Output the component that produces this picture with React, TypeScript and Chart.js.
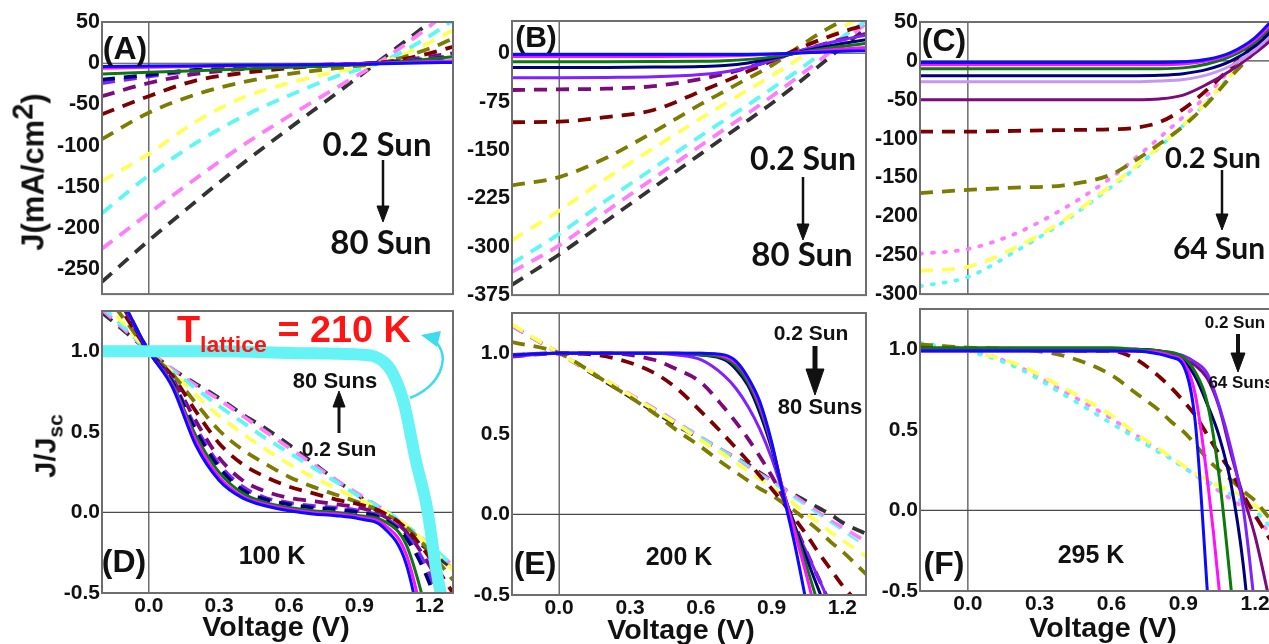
import React, { useEffect, useRef } from "react";
import { Chart, registerables } from "chart.js";
Chart.register(...registerables);

// ---------------- DATA ----------------
// Panel A: J (mA/cm^2) vs V at 100 K
const vA = [-0.2, 0, 0.2, 0.4, 0.6, 0.8, 1.0, 1.2, 1.3];
const jA_blue = [-4, -3.5, -3, -2.5, -2, -1.5, -0.5, 0.5, 1];
const jA_magenta = [-6, -5, -4, -3, -2, -1, 0, 2, 3];
const jA_green = [-13, -11, -9, -7, -5, -3, 0, 5, 8];
const jA_navy = [-20, -14, -8, -5, -3, -1.5, 0.5, 5, 8];
const jA_violet = [-24, -16, -9, -6, -3.5, -2, 0.5, 6, 9];
const jA_purple = [-40, -24, -13, -7, -4, -2, 1, 8, 12];
const jA_darkred = [-62, -40, -21, -12, -6, -2, 1, 12, 20];
const jA_olive = [-92, -60, -38, -23, -13, -6, 1, 18, 30];
const jA_yellow = [-143, -110, -71, -42, -24, -10, 1, 25, 40];
const jA_cyan = [-182, -136, -97, -65, -39, -16, 2, 33, 52];
const jA_pink = [-225, -182, -140, -100, -64, -30, 4, 45, 68];
const jA_black = [-265, -215, -168, -122, -79, -37, 6, 50, 75];

// Panel B: J vs V at 200 K
const vB = [-0.2, 0, 0.2, 0.4, 0.6, 0.7, 0.8, 0.9, 1.0, 1.1, 1.2, 1.3];
const jB_blue = [-2, -2, -2, -2, -2, -2, -1.8, -1.2, 0, 1.5, 3, 4];
const jB_magenta = [-5, -5, -5, -5, -4.6, -4.2, -3.2, -1.6, 0.5, 3.5, 6.5, 9];
const jB_green = [-13, -13, -13, -12.8, -12.3, -11.5, -9.5, -6, 0, 6, 11, 15];
const jB_navy = [-22, -22, -22, -21.5, -20.5, -19, -15, -8, 0, 8, 15, 21];
const jB_violet = [-38, -38, -37.5, -36.5, -33, -29, -22, -11, 1, 12, 21, 28];
const jB_purple = [-57, -56, -55, -51, -40, -32, -22, -11, 1, 12, 22, 30];
const jB_darkred = [-107, -106, -99, -88, -59, -44, -28, -12, 5, 20, 33, 44];
const jB_olive = [-205, -192, -162, -122, -79, -59, -39, -19, 6, 30, 50, 62];
const jB_yellow = [-290, -244, -194, -147, -101, -79, -57, -35, -12, 14, 40, 60];
const jB_cyan = [-326, -280, -228, -178, -128, -104, -80, -55, -30, -3, 25, 50];
const jB_pink = [-339, -298, -245, -194, -143, -118, -93, -67, -40, -12, 17, 46];
const jB_black = [-359, -312, -260, -208, -156, -130, -104, -78, -50, -20, 10, 38];

// Panel C: J vs V at 295 K
const vC = [-0.2, 0, 0.2, 0.4, 0.6, 0.7, 0.8, 0.9, 1.0, 1.1, 1.2, 1.3];
const jC_blue = [-2, -2, -2, -2, -2, -2, -2, -1, 2, 11, 30, 62];
const jC_magenta = [-5, -5, -5, -5, -5, -5, -5, -4, 0, 9, 27, 58];
const jC_green = [-10, -10, -10, -10, -10, -10, -10, -9, -4, 6, 24, 54];
const jC_navy = [-19, -19, -19, -19, -19, -19, -18.5, -16.5, -11, 0, 19, 48];
const jC_lavender = [-27, -27, -27, -27, -27, -27, -26, -24, -18, -6, 14, 43];
const jC_purple = [-50, -50, -50, -50, -50, -50, -49, -44, -30, -12, 10, 35];
const jC_darkred = [-91, -91, -90, -89, -88, -86, -79, -62, -37, -8, 22, 50];
const jC_olive = [-170, -166, -163, -160, -146, -128, -107, -84, -55, -20, 12, 45];
const jC_yellow = [-270, -265, -240, -205, -160, -136, -110, -82, -52, -18, 15, 48];
const jC_cyan = [-290, -278, -245, -207, -162, -138, -111, -83, -52, -18, 15, 48];
const jC_pink = [-248, -242, -222, -190, -150, -125, -99, -72, -44, -10, 20, 50];

// Panel D: J/Jsc vs V at 100 K
const vD = [-0.2, -0.1, 0, 0.1, 0.2, 0.3, 0.4, 0.5, 0.6, 0.7, 0.8, 0.9, 1.0, 1.1, 1.2, 1.3];
const jD_blue = [1.6, 1.28, 1.0, 0.78, 0.42, 0.2, 0.09, 0.04, 0.01, -0.01, -0.02, -0.04, -0.09, -0.32, -1.0, -1.8];
const jD_magenta = [1.6, 1.28, 1.0, 0.79, 0.45, 0.22, 0.1, 0.05, 0.02, 0.0, -0.01, -0.03, -0.07, -0.26, -0.85, -1.6];
const jD_green = [1.6, 1.28, 1.0, 0.8, 0.48, 0.25, 0.12, 0.06, 0.03, 0.01, 0.0, -0.02, -0.05, -0.2, -0.7, -1.4];
const jD_navy = [1.55, 1.27, 1.0, 0.81, 0.51, 0.28, 0.14, 0.08, 0.05, 0.03, 0.02, 0.0, -0.04, -0.16, -0.44, -0.9];
const jD_violet = [1.55, 1.27, 1.0, 0.82, 0.53, 0.3, 0.16, 0.09, 0.06, 0.04, 0.03, 0.01, -0.03, -0.14, -0.38, -0.8];
const jD_purple = [1.5, 1.25, 1.0, 0.83, 0.57, 0.34, 0.2, 0.13, 0.09, 0.07, 0.05, 0.03, -0.02, -0.12, -0.33, -0.6];
const jD_darkred = [1.45, 1.22, 1.0, 0.85, 0.63, 0.43, 0.3, 0.22, 0.16, 0.12, 0.08, 0.05, 0.0, -0.1, -0.28, -0.5];
const jD_olive = [1.38, 1.19, 1.0, 0.86, 0.68, 0.51, 0.39, 0.3, 0.22, 0.16, 0.11, 0.06, 0.0, -0.09, -0.24, -0.42];
const jD_yellow = [1.32, 1.16, 1.0, 0.87, 0.73, 0.6, 0.49, 0.39, 0.3, 0.22, 0.15, 0.08, 0.01, -0.08, -0.21, -0.36];
const jD_cyan = [1.28, 1.14, 1.0, 0.88, 0.77, 0.66, 0.56, 0.46, 0.37, 0.28, 0.19, 0.1, 0.02, -0.08, -0.2, -0.33];
const jD_pink = [1.26, 1.13, 1.0, 0.89, 0.79, 0.7, 0.6, 0.5, 0.4, 0.3, 0.2, 0.11, 0.02, -0.09, -0.21, -0.33];
const jD_black = [1.24, 1.12, 1.0, 0.89, 0.8, 0.71, 0.61, 0.52, 0.42, 0.31, 0.2, 0.1, -0.02, -0.13, -0.24, -0.35];
// thick cyan curve: T_lattice = 210 K
const vD_lattice = [-0.2, 0, 0.3, 0.6, 0.9, 0.96, 1.0, 1.04, 1.09, 1.14, 1.19, 1.23, 1.27];
const jD_lattice = [1.0, 1.0, 1.0, 0.99, 0.98, 0.97, 0.94, 0.87, 0.68, 0.33, 0.02, -0.37, -0.65];

// Panel E: J/Jsc vs V at 200 K
const vE = [-0.2, 0, 0.2, 0.4, 0.5, 0.6, 0.7, 0.75, 0.8, 0.85, 0.9, 0.95, 1.0, 1.05, 1.1, 1.15, 1.2, 1.3];
const jE_blue = [0.99, 1.0, 1.0, 1.0, 1.0, 1.0, 0.99, 0.95, 0.85, 0.7, 0.45, 0.12, -0.2, -0.57, -0.95, -1.3, -1.6, -2.2];
const jE_magenta = [0.99, 1.0, 1.0, 1.0, 1.0, 1.0, 0.98, 0.94, 0.84, 0.68, 0.44, 0.14, -0.12, -0.39, -0.68, -0.98, -1.3, -1.9];
const jE_green = [0.99, 1.0, 1.0, 1.0, 1.0, 0.99, 0.97, 0.92, 0.82, 0.66, 0.43, 0.14, -0.1, -0.33, -0.57, -0.82, -1.1, -1.6];
const jE_navy = [0.99, 1.0, 1.0, 1.0, 1.0, 0.99, 0.96, 0.9, 0.8, 0.63, 0.41, 0.14, -0.08, -0.28, -0.47, -0.66, -0.85, -1.2];
const jE_violet = [0.98, 1.0, 1.0, 1.0, 0.99, 0.96, 0.86, 0.78, 0.67, 0.53, 0.35, 0.13, -0.08, -0.24, -0.4, -0.56, -0.72, -1.0];
const jE_purple = [0.98, 1.0, 1.0, 0.96, 0.9, 0.82, 0.66, 0.57, 0.47, 0.36, 0.24, 0.1, -0.07, -0.24, -0.4, -0.56, -0.72, -1.0];
const jE_darkred = [0.99, 1.0, 0.98, 0.88, 0.78, 0.64, 0.49, 0.41, 0.33, 0.24, 0.16, 0.07, -0.03, -0.13, -0.24, -0.34, -0.44, -0.6];
const jE_olive = [1.07, 1.0, 0.82, 0.63, 0.52, 0.42, 0.31, 0.26, 0.21, 0.16, 0.12, 0.07, 0.02, -0.04, -0.1, -0.17, -0.23, -0.37];
const jE_yellow = [1.18, 1.0, 0.83, 0.65, 0.56, 0.46, 0.37, 0.32, 0.27, 0.22, 0.17, 0.12, 0.06, 0.0, -0.05, -0.11, -0.16, -0.26];
const jE_cyan = [1.18, 1.0, 0.83, 0.66, 0.57, 0.48, 0.39, 0.35, 0.3, 0.25, 0.2, 0.15, 0.1, 0.05, 0.0, -0.05, -0.1, -0.2];
const jE_pink = [1.17, 1.0, 0.83, 0.66, 0.57, 0.48, 0.39, 0.35, 0.3, 0.25, 0.21, 0.16, 0.11, 0.06, 0.01, -0.04, -0.08, -0.17];
const jE_black = [1.17, 1.0, 0.82, 0.64, 0.55, 0.47, 0.39, 0.35, 0.31, 0.26, 0.21, 0.16, 0.12, 0.08, 0.04, 0.0, -0.05, -0.12];

// Panel F: J/Jsc vs V at 295 K
const vF = [-0.2, 0, 0.2, 0.4, 0.6, 0.7, 0.8, 0.85, 0.9, 0.95, 1.0, 1.05, 1.1, 1.15, 1.2, 1.25, 1.3];
const jF_blue = [0.99, 0.99, 0.99, 0.99, 0.99, 0.99, 0.97, 0.95, 0.9, 0.55, -0.49, -1.7, -3, -4, -5, -6, -7];
const jF_magenta = [0.99, 0.99, 0.99, 0.99, 0.99, 0.99, 0.98, 0.96, 0.92, 0.72, 0.2, -0.49, -1.4, -2.4, -3.4, -4.4, -5.4];
const jF_green = [1.01, 1.01, 1.01, 1.01, 1.01, 1.0, 0.99, 0.98, 0.95, 0.86, 0.67, 0.21, -0.49, -1.3, -2.2, -3, -4];
const jF_navy = [1.0, 1.0, 1.0, 1.0, 1.0, 1.0, 0.99, 0.97, 0.93, 0.83, 0.66, 0.46, 0.16, -0.33, -1.1, -2, -3];
const jF_violet = [1.0, 1.0, 1.0, 1.0, 1.0, 1.0, 0.99, 0.98, 0.96, 0.92, 0.85, 0.65, 0.38, 0.02, -0.62, -1.4, -2.2];
const jF_purple = [1.0, 1.0, 1.0, 1.0, 1.0, 0.99, 0.98, 0.97, 0.94, 0.9, 0.82, 0.64, 0.35, 0.09, -0.16, -0.49, -0.85];
const jF_darkred = [1.01, 1.0, 1.0, 0.99, 0.99, 0.94, 0.83, 0.76, 0.68, 0.59, 0.47, 0.35, 0.24, 0.1, -0.03, -0.15, -0.26];
const jF_olive = [1.03, 1.01, 1.0, 0.96, 0.84, 0.73, 0.62, 0.55, 0.49, 0.41, 0.32, 0.25, 0.19, 0.12, 0.06, -0.03, -0.12];
const jF_yellow = [1.03, 0.99, 0.91, 0.76, 0.59, 0.48, 0.38, 0.33, 0.28, 0.23, 0.19, 0.15, 0.12, 0.09, 0.03, -0.04, -0.1];
const jF_cyan = [1.04, 0.99, 0.89, 0.72, 0.54, 0.45, 0.36, 0.32, 0.27, 0.22, 0.18, 0.14, 0.1, 0.05, 0.0, -0.08, -0.15];
const jF_pink = [1.03, 1.0, 0.9, 0.74, 0.57, 0.47, 0.37, 0.32, 0.27, 0.22, 0.17, 0.12, 0.07, 0.02, -0.04, -0.12, -0.2];

// Tick values
const xTickValues = [0, 0.3, 0.6, 0.9, 1.2];
const yTicksA = [50, 0, -50, -100, -150, -200, -250];
const yTicksB = [0, -75, -150, -225, -300, -375];
const yTicksC = [50, 0, -50, -100, -150, -200, -250, -300];
const yTicksNorm = [1.0, 0.5, 0.0, -0.5];

// ---------------- STYLES ----------------
const COL = {
  blue: "#0b0bff",
  magenta: "#ff10ff",
  green: "#0b7a0b",
  navy: "#00007c",
  violet: "#7f22ff",
  lavender: "#c596f5",
  purple: "#7c0a7c",
  darkred: "#7c0000",
  olive: "#7c7c00",
  yellow: "#ffff58",
  cyan: "#5cf7f7",
  pink: "#ff7cff",
  black: "#333333",
};
type Kind = "solid" | "dash" | "dot";
type St = { color: string; kind: Kind; width?: number };
const st = (color: string, kind: Kind, width?: number): St => ({ color, kind, width });

const stylesA: St[] = [
  st(COL.blue, "solid"), st(COL.magenta, "solid"), st(COL.green, "solid"), st(COL.navy, "dash"),
  st(COL.violet, "dash"), st(COL.purple, "dash"), st(COL.darkred, "dash"), st(COL.olive, "dash"),
  st(COL.yellow, "dash"), st(COL.cyan, "dash"), st(COL.pink, "dash"), st(COL.black, "dash"),
];
const stylesB: St[] = [
  st(COL.blue, "solid"), st(COL.magenta, "solid"), st(COL.green, "solid"), st(COL.navy, "solid"),
  st(COL.violet, "solid"), st(COL.purple, "dash"), st(COL.darkred, "dash"), st(COL.olive, "dash"),
  st(COL.yellow, "dash"), st(COL.cyan, "dash"), st(COL.pink, "dash"), st(COL.black, "dash"),
];
const stylesC: St[] = [
  st(COL.blue, "solid"), st(COL.magenta, "solid"), st(COL.green, "solid"), st(COL.navy, "solid"),
  st(COL.lavender, "solid"), st(COL.purple, "solid"), st(COL.darkred, "dash"), st(COL.olive, "dash"),
  st(COL.yellow, "dash"), st(COL.cyan, "dot"), st(COL.pink, "dot"),
];
const stylesE: St[] = stylesB.map((s, i) => (i === 9 ? st(COL.cyan, "dash", 2) : s));
const stylesF: St[] = [
  st(COL.blue, "solid"), st(COL.magenta, "solid"), st(COL.green, "solid"), st(COL.navy, "solid"),
  st(COL.violet, "solid"), st(COL.purple, "solid"), st(COL.darkred, "dash"), st(COL.olive, "dash"),
  st(COL.yellow, "dash"), st(COL.cyan, "dot"), st(COL.pink, "dot"),
];

const seriesA = [jA_blue, jA_magenta, jA_green, jA_navy, jA_violet, jA_purple, jA_darkred, jA_olive, jA_yellow, jA_cyan, jA_pink, jA_black];
const seriesB = [jB_blue, jB_magenta, jB_green, jB_navy, jB_violet, jB_purple, jB_darkred, jB_olive, jB_yellow, jB_cyan, jB_pink, jB_black];
const seriesC = [jC_blue, jC_magenta, jC_green, jC_navy, jC_lavender, jC_purple, jC_darkred, jC_olive, jC_yellow, jC_cyan, jC_pink];
const seriesD = [jD_blue, jD_magenta, jD_green, jD_navy, jD_violet, jD_purple, jD_darkred, jD_olive, jD_yellow, jD_cyan, jD_pink, jD_black];
const seriesE = [jE_blue, jE_magenta, jE_green, jE_navy, jE_violet, jE_purple, jE_darkred, jE_olive, jE_yellow, jE_cyan, jE_pink, jE_black];
const seriesF = [jF_blue, jF_magenta, jF_green, jF_navy, jF_violet, jF_purple, jF_darkred, jF_olive, jF_yellow, jF_cyan, jF_pink];

const ARIAL = '"Liberation Sans", Arial, Helvetica, sans-serif';
const CAL = 'Lato, "Open Sans", sans-serif';

function makeDs(xs: number[], ys: number[], s: St) {
  const w = s.width ?? (s.kind === "solid" ? 3 : 3.8);
  return {
    data: xs.map((x, i) => ({ x, y: ys[i] })),
    borderColor: s.color,
    backgroundColor: s.color,
    borderWidth: w,
    borderDash: s.kind === "dash" ? [13, 9] : s.kind === "dot" ? [2, 10] : [],
    borderCapStyle: s.kind === "dot" ? "round" : "butt",
    cubicInterpolationMode: "monotone",
    pointRadius: 0,
    fill: false,
  };
}
function buildSet(xs: number[], series: number[][], styles: St[]) {
  return series.map((ys, i) => makeDs(xs, ys, styles[i]));
}

const framePlugin = {
  id: "frameAndZero",
  beforeDatasetsDraw(chart: any) {
    const { ctx, chartArea: a, scales } = chart;
    const x0 = scales.x.getPixelForValue(0);
    const y0 = scales.y.getPixelForValue(0);
    ctx.save();
    ctx.strokeStyle = "#4a4a4a";
    ctx.lineWidth = 1.2;
    ctx.beginPath();
    ctx.moveTo(x0, a.top);
    ctx.lineTo(x0, a.bottom);
    ctx.moveTo(a.left, y0);
    ctx.lineTo(a.right, y0);
    ctx.stroke();
    ctx.restore();
  },
  afterDatasetsDraw(chart: any) {
    const { ctx, chartArea: a } = chart;
    ctx.save();
    ctx.strokeStyle = "#6e6e6e";
    ctx.lineWidth = 2;
    ctx.strokeRect(a.left, a.top, a.right - a.left, a.bottom - a.top);
    ctx.restore();
  },
};

type PanelProps = {
  l: number; t: number; w: number; h: number;
  yMin: number; yMax: number; yTicks: number[]; showX: boolean; decimals: number;
  datasets: any[];
};

function Panel(p: PanelProps) {
  const ref = useRef<HTMLCanvasElement>(null);
  const padL = 66, padT = 16, padR = 12;
  const padB = p.showX ? 34 : 6;
  const cw = p.w + padL + padR;
  const chh = p.h + padT + padB;
  useEffect(() => {
    const tickFont = { family: ARIAL, size: p.showX ? 21 : 21.5, weight: "bold" as const };
    const chart = new Chart(ref.current as HTMLCanvasElement, {
      type: "line",
      data: { datasets: p.datasets },
      options: {
        animation: false,
        responsive: false,
        maintainAspectRatio: false,
        layout: { padding: { left: 0, top: padT, right: padR, bottom: p.showX ? 0 : padB } },
        plugins: { legend: { display: false }, tooltip: { enabled: false } },
        elements: { point: { radius: 0 } },
        scales: {
          x: {
            type: "linear",
            min: -0.2,
            max: 1.3,
            display: p.showX,
            grid: { display: false, drawTicks: false },
            border: { display: false },
            ticks: {
              font: { family: ARIAL, size: 21, weight: "bold" },
              color: "#111",
              padding: 1,
              autoSkip: false,
              maxRotation: 0,
              callback: (v: any) => Number(v).toFixed(1),
            },
            afterBuildTicks: (s: any) => {
              s.ticks = xTickValues.map((v) => ({ value: v }));
            },
            afterFit: (s: any) => {
              s.height = padB;
            },
          },
          y: {
            type: "linear",
            min: p.yMin,
            max: p.yMax,
            grid: { display: false, drawTicks: false },
            border: { display: false },
            ticks: {
              font: tickFont,
              color: "#111",
              padding: 2,
              autoSkip: false,
              callback: (v: any) => Number(v).toFixed(p.decimals),
            },
            afterBuildTicks: (s: any) => {
              s.ticks = p.yTicks.map((v) => ({ value: v }));
            },
            afterFit: (s: any) => {
              s.width = padL;
            },
          },
        },
      } as any,
      plugins: [framePlugin],
    });
    return () => chart.destroy();
  }, []);
  return (
    <canvas
      ref={ref}
      width={cw}
      height={chh}
      style={{ position: "absolute", left: p.l - padL, top: p.t - padT, width: cw, height: chh }}
    />
  );
}

function Txt(props: {
  x: number; y: number; size: number; children: any; color?: string; family?: string;
  rotate?: boolean; anchor?: "center" | "left"; sx?: number;
}) {
  const { x, y, size, children, color = "#111", family = ARIAL, rotate, anchor = "center", sx = 1 } = props;
  const tr =
    anchor === "left"
      ? `translate(0,-50%) scaleX(${sx})`
      : `translate(-50%,-50%)${rotate ? " rotate(-90deg)" : ""} scaleX(${sx})`;
  return (
    <div
      style={{
        position: "absolute",
        left: x,
        top: y,
        transform: tr,
        transformOrigin: anchor === "left" ? "left center" : "center center",
        fontSize: size,
        fontWeight: 700,
        fontFamily: family,
        color,
        whiteSpace: "nowrap",
        lineHeight: 1,
      }}
    >
      {children}
    </div>
  );
}

export default function App() {
  const dsA = buildSet(vA, seriesA, stylesA);
  const dsB = buildSet(vB, seriesB, stylesB);
  const dsC = buildSet(vC, seriesC, stylesC);
  const dsD = [
    { ...makeDs(vD_lattice, jD_lattice, st("#66f3f5", "solid", 12)), borderCapStyle: "butt" },
    ...buildSet(vD, seriesD, stylesA),
  ];
  const dsE = buildSet(vE, seriesE, stylesE);
  const dsF = buildSet(vF, seriesF, stylesF);

  return (
    <div style={{ position: "fixed", left: 0, top: 0, width: 1269, height: 644, overflow: "hidden", background: "#fff" }}>
      <Panel l={102} t={22} w={351} h={281} yMin={-280} yMax={50} yTicks={yTicksA} showX={false} decimals={0} datasets={dsA} />
      <Panel l={512} t={21} w={354} h={283} yMin={-375} yMax={50} yTicks={yTicksB} showX={false} decimals={0} datasets={dsB} />
      <Panel l={920} t={22} w={359} h={281} yMin={-300} yMax={50} yTicks={yTicksC} showX={false} decimals={0} datasets={dsC} />
      <Panel l={102} t={311} w={351} h={282} yMin={-0.5} yMax={1.25} yTicks={yTicksNorm} showX={true} decimals={1} datasets={dsD} />
      <Panel l={512} t={313} w={354} h={282} yMin={-0.5} yMax={1.25} yTicks={yTicksNorm} showX={true} decimals={1} datasets={dsE} />
      <Panel l={920} t={309} w={359} h={282} yMin={-0.5} yMax={1.25} yTicks={yTicksNorm} showX={true} decimals={1} datasets={dsF} />

      {/* axis titles */}
      <Txt x={33} y={172} size={31} rotate>
        J(mA/cm<span style={{ fontSize: 29, position: "relative", top: -11 }}>2</span>)
      </Txt>
      <Txt x={46} y={446} size={29} rotate>
        J/J<span style={{ fontSize: 21, position: "relative", top: 7 }}>sc</span>
      </Txt>
      <Txt x={276} y={627} size={27} sx={1.06}>Voltage (V)</Txt>
      <Txt x={681} y={630} size={27} sx={1.06}>Voltage (V)</Txt>
      <Txt x={1103} y={628} size={27} sx={1.06}>Voltage (V)</Txt>

      {/* panel labels */}
      <Txt x={125} y={48} size={32}>(A)</Txt>
      <Txt x={536} y={37} size={30}>(B)</Txt>
      <Txt x={944} y={40} size={32}>(C)</Txt>
      <Txt x={124} y={561} size={32}>(D)</Txt>
      <Txt x={535} y={563} size={32}>(E)</Txt>
      <Txt x={944} y={563} size={32}>(F)</Txt>

      {/* top annotations */}
      <Txt x={377} y={143} size={33} family={CAL}>0.2 Sun</Txt>
      <Txt x={381} y={241} size={33} family={CAL}>80 Sun</Txt>
      <Txt x={803} y={158} size={32} family={CAL}>0.2 Sun</Txt>
      <Txt x={802} y={253} size={33} family={CAL}>80 Sun</Txt>
      <Txt x={1213} y={156} size={29} family={CAL}>0.2 Sun</Txt>
      <Txt x={1219} y={247} size={30} family={CAL}>64 Sun</Txt>

      {/* bottom annotations */}
      <Txt x={177} y={330} size={36} color="#ff1414" anchor="left" sx={1.05}>
        T<span style={{ fontSize: 22, position: "relative", top: 10 }}>lattice</span> = 210 K
      </Txt>
      <Txt x={335} y={381} size={22}>80 Suns</Txt>
      <Txt x={339} y={448} size={21}>0.2 Sun</Txt>
      <Txt x={272} y={555} size={25}>100 K</Txt>
      <Txt x={811} y={332} size={21}>0.2 Sun</Txt>
      <Txt x={820} y={407} size={22}>80 Suns</Txt>
      <Txt x={679} y={556} size={25}>200 K</Txt>
      <Txt x={1235} y={322} size={17}>0.2 Sun</Txt>
      <Txt x={1241} y={382} size={17}>64 Suns</Txt>
      <Txt x={1091} y={554} size={25}>295 K</Txt>

      <svg width={1269} height={644} style={{ position: "absolute", left: 0, top: 0, pointerEvents: "none" }}>
        <g stroke="#111" fill="#111">
          <line x1={383} y1={160} x2={383} y2={208} strokeWidth={2.5} />
          <polygon points="377,206 389,206 383,222" />
          <line x1={803} y1={177} x2={803} y2={226} strokeWidth={2.5} />
          <polygon points="797,224 809,224 803,240" />
          <line x1={1222} y1={170} x2={1222} y2={216} strokeWidth={2.5} />
          <polygon points="1216,214 1228,214 1222,230" />
          <line x1={339} y1={433} x2={339} y2={405} strokeWidth={3} />
          <polygon points="333,407 345,407 339,391" />
          <line x1={815} y1={346} x2={815} y2={372} strokeWidth={5} />
          <polygon points="806,369 824,369 815,395" />
          <line x1={1238} y1={334} x2={1238} y2={355} strokeWidth={4} />
          <polygon points="1231,353 1245,353 1238,372" />
        </g>
        <path d="M410 398 C 440 386 450 360 437 343" stroke="#3fdcee" strokeWidth={2.5} fill="none" />
        <polygon points="421,335 441,331 437,347" fill="#3fdcee" />
      </svg>
    </div>
  );
}
